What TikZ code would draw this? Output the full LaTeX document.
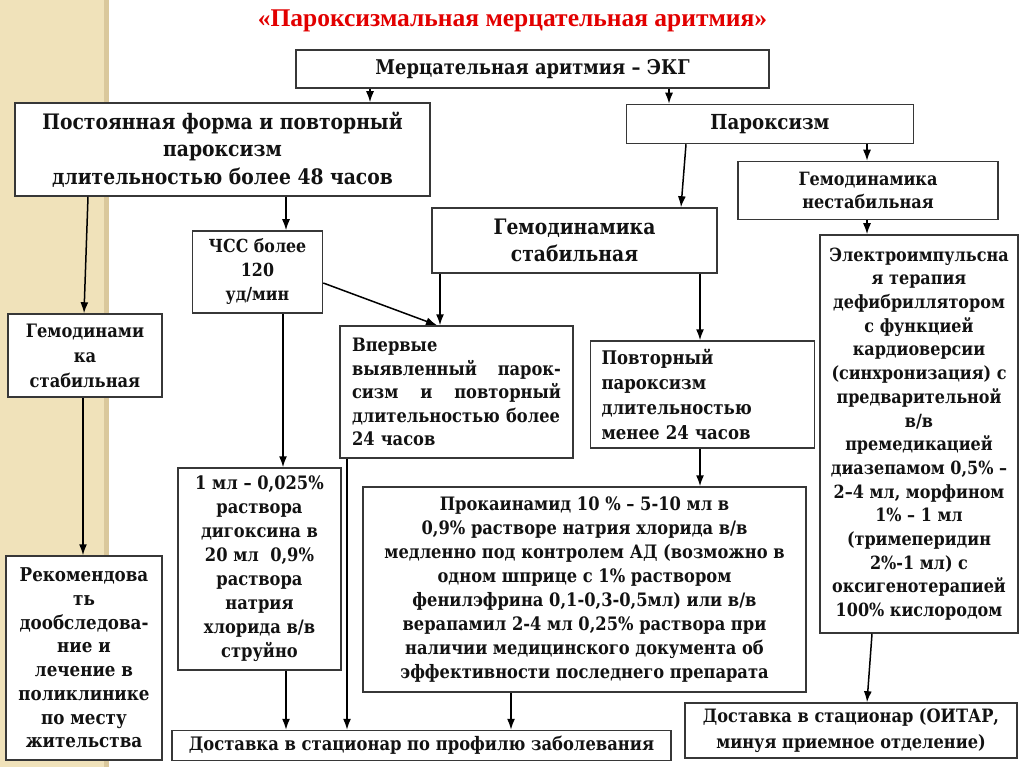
\documentclass[tikz,border=0pt]{standalone}
\usepackage{fontspec}
\usetikzlibrary{arrows.meta}
\newfontfamily\cf[FakeStretch=0.88]{DejaVu Serif}
\newfontfamily\tf{Liberation Serif}
\definecolor{beige}{RGB}{240,226,186}
\definecolor{beigedark}{RGB}{218,200,156}
\definecolor{boxc}{RGB}{55,55,55}
\definecolor{txt}{RGB}{18,18,18}
\definecolor{titlered}{RGB}{226,0,0}
\newcommand\myfs[2]{\fontsize{#1}{#2}\selectfont\cf\bfseries}
\newcommand\jline[1]{\leavevmode\hbox to 209pt{#1}}
\begin{document}
\begin{tikzpicture}[x=1pt,y=-1pt,
  box/.style={draw=boxc, line width=1.5pt, fill=white, inner sep=0pt, align=center, text=txt},
  lbox/.style={box, align=left},
  arr/.style={line width=1.5pt, draw=black, -{Latex[length=11pt,width=8pt]}}]
\useasboundingbox (0,0) rectangle (1024,767);
\fill[white] (0,0) rectangle (1024,767);
\fill[beige] (0,0) rectangle (105,767);
\fill[beigedark] (104,0) rectangle (109,767);

\node[text=titlered, font=\fontsize{25.5}{30}\selectfont\tf\bfseries] (title) at (512.5,21) {«Пароксизмальная мерцательная аритмия»};

\node[box, minimum width=473pt, minimum height=38pt, font=\myfs{20.3}{24}] (ekg) at (532.5,69) {Мерцательная аритмия – ЭКГ};
\node[box, minimum width=415pt, minimum height=93pt, font=\myfs{21.3}{27.5}] (post) at (222.5,149.5) {Постоянная форма и повторный\\пароксизм\\длительностью более 48 часов};
\node[box, minimum width=287pt, minimum height=39pt, font=\myfs{20.7}{24}] (parox) at (770,124) {Пароксизм};
\node[box, minimum width=260pt, minimum height=58pt, font=\myfs{18.3}{23}] (unst) at (868,190.5) {Гемодинамика\\нестабильная};
\node[box, minimum width=285pt, minimum height=65pt, font=\myfs{21.3}{27}] (stab) at (574.5,240.5) {Гемодинамика\\стабильная};
\node[box, minimum width=130pt, minimum height=82pt, font=\myfs{18}{24}] (hr) at (257.5,272) {ЧСС более\\120\\уд/мин};
\node[box, minimum width=154pt, minimum height=83pt, font=\myfs{18.5}{25}] (lstab) at (85,355.5) {Гемодинами\\ка\\стабильная};
\node[lbox, text width=209pt, inner xsep=12pt, minimum height=132pt, font=\myfs{18.5}{23.5}] (first) at (456.5,392) {Впервые\\\jline{выявленный\hfill парок-}\\\jline{сизм\hfill и\hfill повторный}\\длительностью более\\24 часов};
\node[lbox, text width=202pt, inner xsep=11pt, minimum height=107pt, font=\myfs{18.8}{24.7}] (rep) at (702.5,394.5) {Повторный\\пароксизм\\длительностью\\менее 24 часов};
\node[box, minimum width=198pt, minimum height=398pt, font=\myfs{18.2}{23.7}] (eit) at (919,434) {Электроимпульсна\\я терапия\\дефибриллятором\\с функцией\\кардиоверсии\\(синхронизация) с\\предварительной\\в/в\\премедикацией\\диазепамом 0,5\% –\\2–4 мл, морфином\\1\% – 1 мл\\(тримеперидин\\2\%-1 мл) с\\оксигенотерапией\\100\% кислородом};
\node[box, minimum width=163pt, minimum height=202pt, font=\myfs{18.5}{24}] (dig) at (259.5,569) {1 мл – 0,025\%\\раствора\\дигоксина в\\20 мл\ \ 0,9\%\\раствора\\натрия\\хлорида в/в\\струйно};
\node[box, minimum width=443pt, minimum height=205pt, font=\myfs{18.5}{24}] (proc) at (584.5,589.5) {Прокаинамид 10 \% – 5-10 мл в\\0,9\% растворе натрия хлорида в/в\\медленно под контролем АД (возможно в\\одном шприце с 1\% раствором\\фенилэфрина 0,1-0,3-0,5мл) или в/в\\верапамил 2-4 мл 0,25\% раствора при\\наличии медицинского документа об\\эффективности последнего препарата};
\node[box, minimum width=156pt, minimum height=204pt, font=\myfs{19}{23.7}] (rec) at (84,658) {Рекомендова\\ть\\дообследова-\\ние и\\лечение в\\поликлинике\\по месту\\жительства};
\node[box, minimum width=499pt, minimum height=30pt, font=\myfs{18.6}{24}] (del1) at (421.5,745.5) {Доставка в стационар по профилю заболевания};
\node[box, minimum width=332pt, minimum height=55pt, font=\myfs{18.4}{26}] (del2) at (851,730.5) {Доставка в стационар (ОИТАР,\\минуя приемное отделение)};

\coordinate (a1) at (370,0);
\coordinate (a2) at (669,0);
\coordinate (a3) at (686,0);
\coordinate (a3b) at (681,0);
\coordinate (a4) at (867,0);
\coordinate (a5) at (286,0);
\coordinate (a6) at (88,0);
\coordinate (a6b) at (84,0);
\coordinate (b7) at (0,283);
\coordinate (a7) at (437,0);
\coordinate (a8) at (440,0);
\coordinate (a9) at (700,0);
\coordinate (a10) at (283,0);
\coordinate (a11) at (83,0);
\coordinate (a12) at (286,0);
\coordinate (a13) at (347,0);
\coordinate (a14) at (511,0);
\coordinate (a15) at (872,0);
\coordinate (a15b) at (867,0);

\draw[arr] (ekg.south -| a1) -- (post.north -| a1);
\draw[arr] (ekg.south -| a2) -- (parox.north -| a2);
\draw[arr] (parox.south -| a3) -- (stab.north -| a3b);
\draw[arr] (parox.south -| a4) -- (unst.north -| a4);
\draw[arr] (unst.south -| a4) -- (eit.north -| a4);
\draw[arr] (post.south -| a5) -- (hr.north -| a5);
\draw[arr] (post.south -| a6) -- (lstab.north -| a6b);
\draw[arr] (hr.east |- b7) -- (first.north -| a7);
\draw[arr] (stab.south -| a8) -- (first.north -| a8);
\draw[arr] (stab.south -| a9) -- (rep.north -| a9);
\draw[arr] (hr.south -| a10) -- (dig.north -| a10);
\draw[arr] (rep.south -| a9) -- (proc.north -| a9);
\draw[arr] (lstab.south -| a11) -- (rec.north -| a11);
\draw[arr] (dig.south -| a12) -- (del1.north -| a12);
\draw[arr] (first.south -| a13) -- (del1.north -| a13);
\draw[arr] (proc.south -| a14) -- (del1.north -| a14);
\draw[arr] (eit.south -| a15) -- (del2.north -| a15b);
\end{tikzpicture}
\end{document}
